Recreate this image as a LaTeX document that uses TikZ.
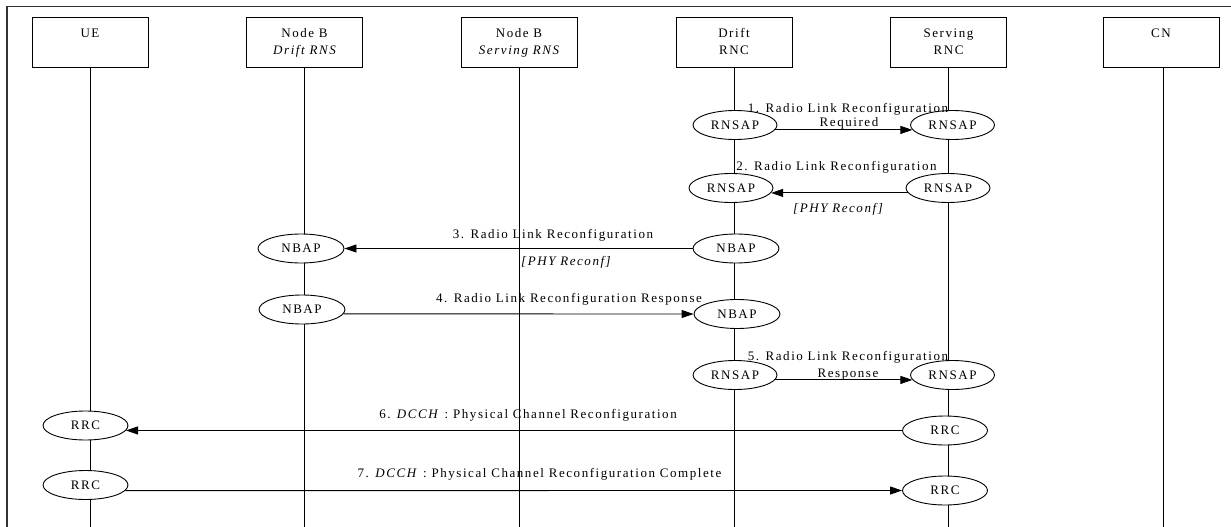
\documentclass[tikz,border=0pt]{standalone}
\usepackage{fontspec}
\setmainfont{Liberation Serif}[LetterSpace=12]
\usetikzlibrary{arrows.meta,shapes.geometric}
\begin{document}
\begin{tikzpicture}[x=1pt,y=-1pt,
  every node/.style={font=\fontsize{13}{15}\selectfont},
  entity/.style={draw, line width=0.9pt, minimum width=116pt, minimum height=50pt, inner sep=0pt},
  proto/.style={draw, ellipse, fill=white, line width=0.9pt, minimum width=84pt, minimum height=29pt, inner sep=0pt},
  life/.style={line width=0.9pt},
  frame/.style={line width=1.1pt, draw=black!80},
  msg/.style={line width=0.9pt, -{Triangle[length=12pt,width=8pt]}},
  lbl/.style={inner sep=0pt, anchor=base},
]
\useasboundingbox (0,0) rectangle (1231,527);
% frame
\coordinate (fBL) at (7,527);
\coordinate (fTL) at (7,6.5);
\coordinate (fTR) at (1231,6.5);
\draw[frame] (fBL) -- (fTL) -- (fTR);

% entities
\node[entity] (ue) at (90,42) {};
\node[entity] (nbd) at (304.5,42) {};
\node[entity] (nbs) at (519,42) {};
\node[entity] (drnc) at (734,42) {};
\node[entity] (srnc) at (948.5,42) {};
\node[entity] (cn) at (1161,42) {};

\node[lbl] (ueT) at (90,37.5) {UE};
\node[lbl] (nbdT1) at (304.5,37.5) {Node B};
\node[lbl] (nbdT2) at (304.5,54.5) {\itshape Drift RNS};
\node[lbl] (nbsT1) at (519,37.5) {Node B};
\node[lbl] (nbsT2) at (519,54.5) {\itshape Serving RNS};
\node[lbl] (drncT1) at (734,37.5) {Drift};
\node[lbl] (drncT2) at (734,54.5) {RNC};
\node[lbl] (srncT1) at (948.5,37.5) {Serving};
\node[lbl] (srncT2) at (948.5,54.5) {RNC};
\node[lbl] (cnT) at (1161,37.5) {CN};

% lifelines
\coordinate (ueE) at (90,527);
\coordinate (nbdE) at (304.5,527);
\coordinate (nbsE) at (519,527);
\coordinate (drncE) at (734,527);
\coordinate (srncE) at (948.5,527);
\coordinate (cnE) at (1163,527);
\draw[life] (ue.south) -- (ueE);
\draw[life] (nbd.south) -- (nbdE);
\draw[life] (nbs.south) -- (nbsE);
\draw[life] (drnc.south) -- (drncE);
\draw[life] (srnc.south) -- (srncE);
\draw[life] (cn.south -| cnE) -- (cnE);

% 1
\node[proto] (p1a) at (735,125) {RNSAP};
\node[proto] (p1b) at (952.5,125) {RNSAP};
\draw[msg] (p1a.-7.2) -- (p1b.187.2);
\node[lbl] (t1a) at (848,112) {1. Radio Link Reconfiguration};
\node[lbl] (t1b) at (849,126) {Required};

% 2
\node[proto] (p2a) at (731,188) {RNSAP};
\node[proto] (p2b) at (948,188) {RNSAP};
\draw[msg] (p2b.187.2) -- (p2a.-7.2);
\node[lbl] (t2a) at (836.5,170) {2. Radio Link Reconfiguration};
\node[lbl] (t2b) at (838,212) {\itshape [PHY Reconf]};

% 3
\node[proto, minimum width=86pt] (p3a) at (301,248.5) {NBAP};
\node[proto, minimum width=86pt] (p3b) at (736,248.5) {NBAP};
\draw[msg] (p3b.west) -- (p3a.east);
\node[lbl] (t3a) at (553,238) {3. Radio Link Reconfiguration};
\node[lbl] (t3b) at (566,265) {\itshape [PHY Reconf]};

% 4
\node[proto, minimum width=86pt] (p4a) at (302,309.5) {NBAP};
\node[proto, minimum width=86pt] (p4b) at (737,314) {NBAP};
\draw[msg] (p4a.-6.4) -- (p4b.west);
\node[lbl] (t4a) at (569,302.5) {4. Radio Link Reconfiguration Response};

% 5
\node[proto] (p5a) at (735,375) {RNSAP};
\node[proto] (p5b) at (952.5,375) {RNSAP};
\draw[msg] (p5a.-7.2) -- (p5b.187.2);
\node[lbl] (t5a) at (848,360) {5. Radio Link Reconfiguration};
\node[lbl] (t5b) at (848,377) {Response};

% 6
\node[proto, minimum width=85pt] (p6a) at (85.5,425.5) {RRC};
\node[proto, minimum width=85pt] (p6b) at (945,430.5) {RRC};
\draw[msg] (p6b.west) -- (p6a.-7.2);
\node[lbl] (t6a) at (528,418) {6. \textit{DCCH} : Physical Channel Reconfiguration};

% 7
\node[proto, minimum width=85pt] (p7a) at (85.5,485) {RRC};
\node[proto, minimum width=85pt] (p7b) at (945,490.5) {RRC};
\draw[msg] (p7a.-8) -- (p7b.west);
\node[lbl] (t7a) at (539.5,477.5) {7. \textit{DCCH} : Physical Channel Reconfiguration Complete};
\end{tikzpicture}
\end{document}
